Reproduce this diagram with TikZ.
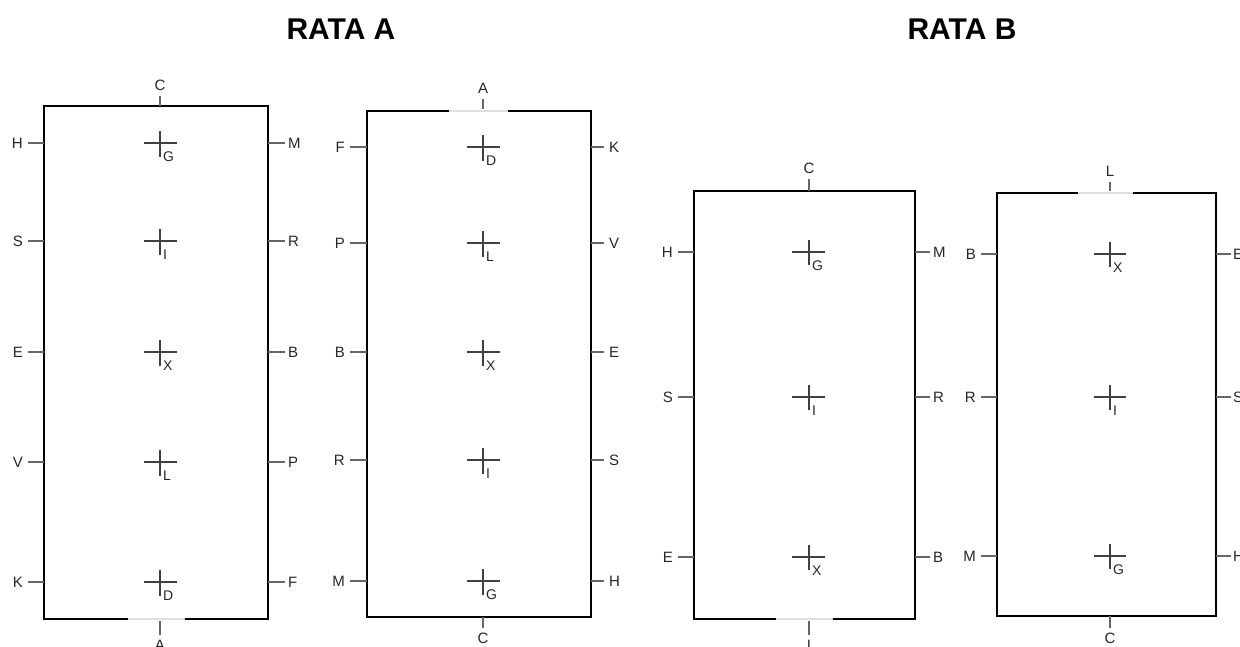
\documentclass[tikz,border=0pt]{standalone}
\usepackage{fontspec}
\setmainfont{Liberation Sans}
\usetikzlibrary{positioning}

\tikzset{
  wall/.style={draw=black, line width=2.3pt},
  door/.style={draw=black!13, line width=2.5pt},
  tick/.style={draw=black!60, line width=1.3pt},
  cross/.style={draw=black!75, line width=1.2pt},
  lbl/.style={font=\fontsize{15}{17}\selectfont, text=black!85, inner sep=5pt},
  spot/.style={font=\fontsize{14}{16}\selectfont, text=black!85, inner sep=0pt, anchor=north west},
  title/.style={font=\bfseries\fontsize{30}{34}\selectfont}
}

\begin{document}
\begin{tikzpicture}[x=1pt, y=-1pt]
  \useasboundingbox (0,0) rectangle (1240,647);

  \node[title] (rataA) at (341,29) {RATA A};
  \node[title] (rataB) at (962,29) {RATA B};

  % rata A, first box
  \coordinate (a1nw) at (44,106);
  \coordinate (a1se) at (268,619);
  \draw[wall] (a1nw) rectangle (a1se);
  \draw[door] (128,619) -- (185,619);
  \node[lbl, anchor=south] (a1n) at (160,96) {C};
  \draw[tick] (a1n) -- (a1n |- a1nw);
  \node[lbl, anchor=north] (a1s) at (160,635) {A};
  \draw[tick] (a1s) -- ([yshift=-2pt]a1s |- a1se);
  \foreach \y/\l/\r/\c [count=\i] in {143/H/M/G, 241/S/R/I, 352/E/B/X, 462/V/P/L, 582/K/F/D} {
    \node[lbl, anchor=east] (a1l\i) at (28,\y) {\l};
    \draw[tick] (a1l\i) -- (a1l\i -| a1nw);
    \node[lbl, anchor=west, inner sep=3pt] (a1r\i) at (285,\y) {\r};
    \draw[tick] (a1r\i) -- (a1r\i -| a1se);
    \coordinate (a1c\i) at (160,\y);
    \draw[cross] ([xshift=-16pt]a1c\i) -- ([xshift=17pt]a1c\i);
    \draw[cross] ([yshift=12pt]a1c\i) -- ([yshift=-14pt]a1c\i);
    \node[spot] (a1p\i) at ([xshift=3pt,yshift=-9pt]a1c\i) {\c};
  }

  % rata A, second box
  \coordinate (a2nw) at (367,111);
  \coordinate (a2se) at (591,617);
  \draw[wall] (a2nw) rectangle (a2se);
  \draw[door] (449,111) -- (508,111);
  \node[lbl, anchor=south] (a2n) at (483,99) {A};
  \draw[tick] (a2n) -- ([yshift=2pt]a2n |- a2nw);
  \node[lbl, anchor=north] (a2s) at (483,628) {C};
  \draw[tick] (a2s) -- (a2s |- a2se);
  \foreach \y/\l/\r/\c [count=\i] in {147/F/K/D, 243/P/V/L, 352/B/E/X, 460/R/S/I, 581/M/H/G} {
    \node[lbl, anchor=east] (a2l\i) at (350,\y) {\l};
    \draw[tick] (a2l\i) -- (a2l\i -| a2nw);
    \node[lbl, anchor=west] (a2r\i) at (604,\y) {\r};
    \draw[tick] (a2r\i) -- (a2r\i -| a2se);
    \coordinate (a2c\i) at (483,\y);
    \draw[cross] ([xshift=-16pt]a2c\i) -- ([xshift=17pt]a2c\i);
    \draw[cross] ([yshift=12pt]a2c\i) -- ([yshift=-14pt]a2c\i);
    \node[spot] (a2p\i) at ([xshift=3pt,yshift=-9pt]a2c\i) {\c};
  }

  % rata B, first box
  \coordinate (b1nw) at (694,191);
  \coordinate (b1se) at (915,619);
  \draw[wall] (b1nw) rectangle (b1se);
  \draw[door] (776,619) -- (833,619);
  \node[lbl, anchor=south] (b1n) at (809,179) {C};
  \draw[tick] (b1n) -- (b1n |- b1nw);
  \node[lbl, anchor=north] (b1s) at (809,635) {I};
  \draw[tick] (b1s) -- ([yshift=-2pt]b1s |- b1se);
  \foreach \y/\l/\r/\c [count=\i] in {252/H/M/G, 397/S/R/I, 557/E/B/X} {
    \node[lbl, anchor=east] (b1l\i) at (678,\y) {\l};
    \draw[tick] (b1l\i) -- (b1l\i -| b1nw);
    \node[lbl, anchor=west, inner sep=3pt] (b1r\i) at (930,\y) {\r};
    \draw[tick] (b1r\i) -- (b1r\i -| b1se);
    \coordinate (b1c\i) at (809,\y);
    \draw[cross] ([xshift=-17pt]b1c\i) -- ([xshift=16pt]b1c\i);
    \draw[cross] ([yshift=12pt]b1c\i) -- ([yshift=-13pt]b1c\i);
    \node[spot] (b1p\i) at ([xshift=3pt,yshift=-9pt]b1c\i) {\c};
  }

  % rata B, second box
  \coordinate (b2nw) at (997,193);
  \coordinate (b2se) at (1216,616);
  \draw[wall] (b2nw) rectangle (b2se);
  \draw[door] (1078,193) -- (1133,193);
  \node[lbl, anchor=south] (b2n) at (1110,182) {L};
  \draw[tick] (b2n) -- ([yshift=2pt]b2n |- b2nw);
  \node[lbl, anchor=north] (b2s) at (1110,628) {C};
  \draw[tick] (b2s) -- (b2s |- b2se);
  \foreach \y/\l/\r/\c [count=\i] in {254/B/E/X, 397/R/S/I, 556/M/H/G} {
    \node[lbl, anchor=east] (b2l\i) at (981,\y) {\l};
    \draw[tick] (b2l\i) -- (b2l\i -| b2nw);
    \node[lbl, anchor=west, inner sep=2pt] (b2r\i) at (1231,\y) {\r};
    \draw[tick] (b2r\i) -- (b2r\i -| b2se);
    \coordinate (b2c\i) at (1110,\y);
    \draw[cross] ([xshift=-16pt]b2c\i) -- ([xshift=16pt]b2c\i);
    \draw[cross] ([yshift=12pt]b2c\i) -- ([yshift=-13pt]b2c\i);
    \node[spot] (b2p\i) at ([xshift=3pt,yshift=-9pt]b2c\i) {\c};
  }
\end{tikzpicture}
\end{document}
